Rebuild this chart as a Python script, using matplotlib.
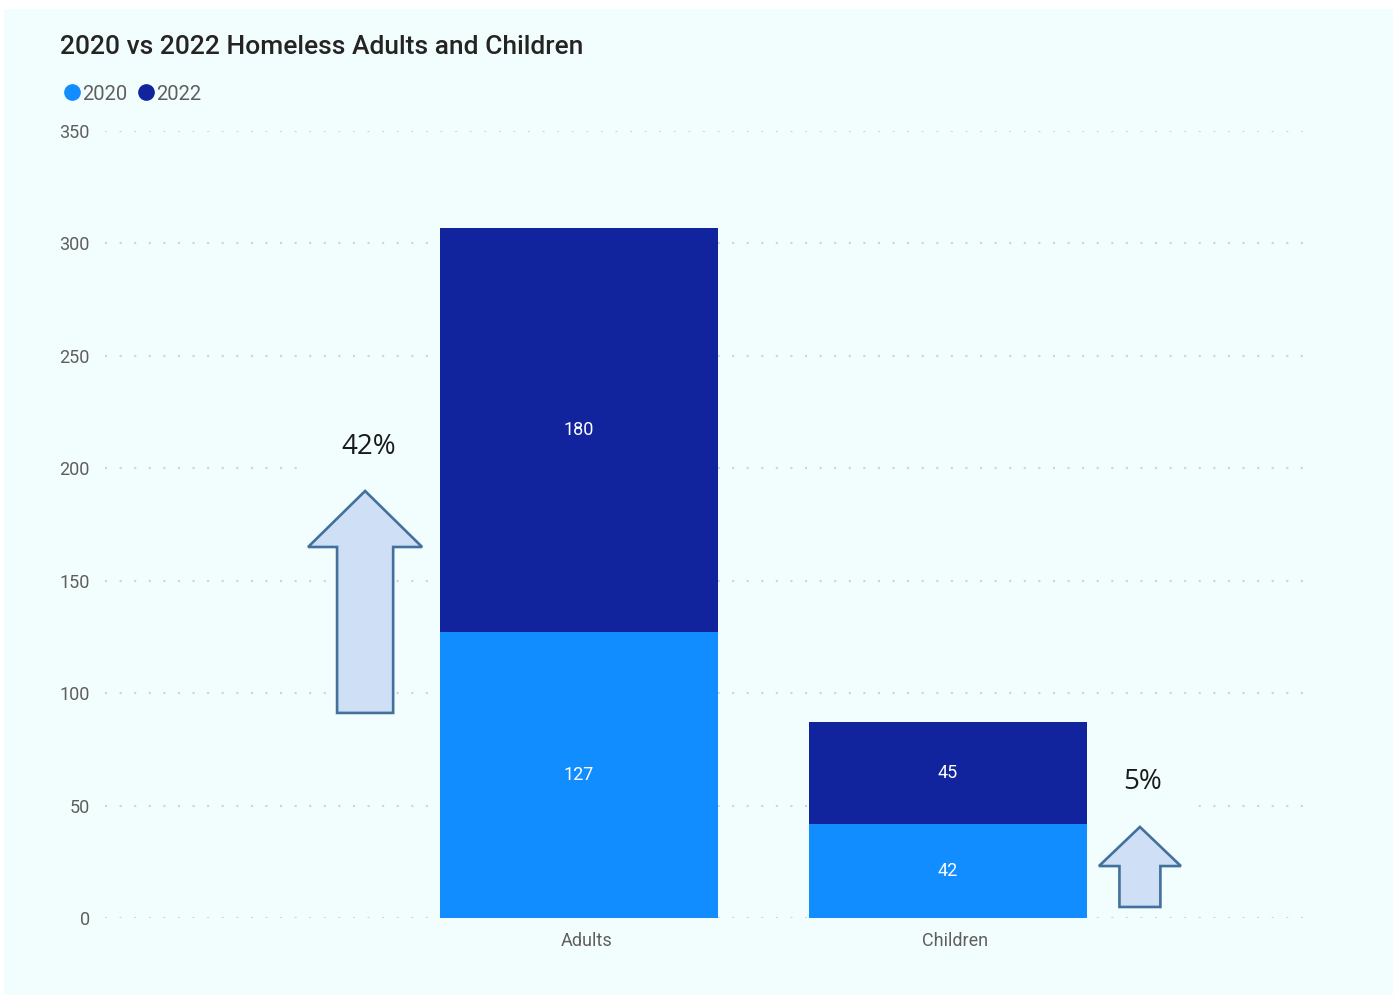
import matplotlib.pyplot as plt
from matplotlib.lines import Line2D
from matplotlib.patches import FancyArrow, Rectangle

categories = ["Adults", "Children"]
years = ["2020", "2022"]
values_2020 = [127, 42]
values_2022 = [180, 45]
changes = ["42%", "5%"]
y_ticks = [0, 50, 100, 150, 200, 250, 300, 350]

c2020 = "#118DFF"
c2022 = "#12239E"
bg = "#F2FEFE"
grey = "#605E5C"
arrow_fill = "#CFDFF6"
arrow_edge = "#41719C"

plt.rcParams['font.family'] = ['Roboto', 'DejaVu Sans']

fig = plt.figure(figsize=(13.97, 9.99), dpi=100, facecolor="white")
fig.patches.append(Rectangle((4 / 1397, 4 / 999), 1389 / 1397, 986 / 999,
                             transform=fig.transFigure, facecolor=bg,
                             edgecolor="none", zorder=-10))

ax = fig.add_axes([105 / 1397, 81 / 999, 1205 / 1397, 787 / 999])
ax.set_facecolor("none")

x = list(range(len(categories)))
bar_w = 0.753
ax.bar(x, values_2020, width=bar_w, color=c2020, zorder=3)
ax.bar(x, values_2022, width=bar_w, bottom=values_2020, color=c2022, zorder=3)

for xi, a, b in zip(x, values_2020, values_2022):
    ax.text(xi, a / 2, str(a), color="white", ha="center", va="center",
            fontsize=13, zorder=4)
    ax.text(xi, a + b / 2, str(b), color="white", ha="center", va="center",
            fontsize=13, zorder=4)

ax.set_xlim(-1.285, 1.981)
ax.set_ylim(0, 350)
ax.set_yticks(y_ticks)
# category labels sit slightly right of bar centres in the original
ax.set_xticks([xi + 0.019 for xi in x])
ax.set_xticklabels(categories, color=grey, fontsize=13)
ax.tick_params(axis="y", colors=grey, labelsize=13, length=0, pad=11)
ax.tick_params(axis="x", length=0, pad=10)
for s in ax.spines.values():
    s.set_visible(False)
ax.grid(axis="y", color="#CDD3DC", linestyle=(0, (1, 6)), linewidth=1.5, zorder=0)

# arrows + change labels
arrows = [
    # (x center, y bottom, length, shaft width, head width, head length)
    (-0.580, 91.2, 98.7, 0.152, 0.309, 24.9),
    (1.520, 4.9, 35.6, 0.111, 0.222, 17.4),
]
label_pos = [(-0.569, 209.5, 1.37), (1.528, 60.5, 1.0)]
for (ax0, y0, ln, w, hw, hl), (tx, ty, pad), txt in zip(arrows, label_pos, changes):
    ax.text(tx, ty, txt, fontsize=20, color="#1A1A1A", ha="center", va="center",
            family=["Open Sans", "DejaVu Sans"], zorder=2,
            bbox=dict(boxstyle=f"square,pad={pad}", facecolor=bg, edgecolor="none"))
    arr = FancyArrow(ax0, y0, 0, ln, width=w, head_width=hw, head_length=hl,
                     length_includes_head=True, facecolor=arrow_fill,
                     edgecolor=arrow_edge, linewidth=1.9, zorder=2)
    ax.add_patch(arr)

fig.text(60 / 1397, 1 - 47 / 999, "2020 vs 2022 Homeless Adults and Children",
         fontsize=19, fontweight="medium", color="#252423", ha="left", va="center")

handles = [Line2D([], [], marker="o", linestyle="none", markersize=11, color=c)
           for c in (c2020, c2022)]
fig.legend(handles, years, loc="center left", bbox_to_anchor=(52 / 1397, 1 - 94 / 999),
           ncol=2, frameon=False, handletextpad=0.0, columnspacing=0.4,
           handlelength=1.0, borderpad=0, fontsize=14.5, labelcolor=grey)

fig.savefig("out.png", dpi=100, facecolor="white")
